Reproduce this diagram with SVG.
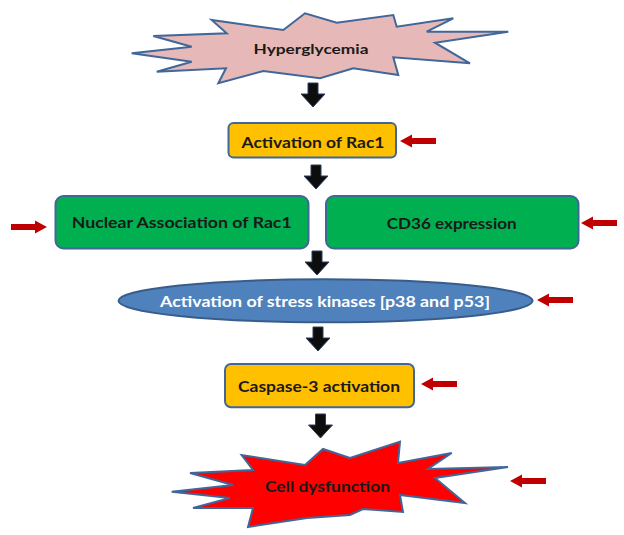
<svg xmlns="http://www.w3.org/2000/svg" width="624" height="535" viewBox="0 0 624 535">
<style>
.lbl{font-family:Lato,"Liberation Sans",sans-serif;font-weight:bold;fill:#1a1a1a;text-anchor:middle}
.node{stroke:#41679A;stroke-width:2}
.down{fill:#0d0d0d;stroke:#2A3E5E;stroke-width:1}
.red{fill:#C00000}
</style>
<defs>
<path id="dn" d="M-5,0 H5 V11 H12 L0,24 L-12,11 H-5 Z"/>
<path id="rl" d="M0,0 L12,-6.5 V-3 H36 V3 H12 V6.5 Z"/>
</defs>
<rect width="624" height="535" fill="#ffffff"/>

<g id="hyperglycemia">
<polygon class="node" fill="#E6B9B8" points="131.7,53.3 191.7,46.7 153.3,36 226.7,33.3 211.7,20 283.3,30 305,13.3 336.7,22.7 393.3,15 396.7,26.7 453.3,18.3 426.7,31.7 508.3,31.7 435,42.7 470,63.3 393.3,57.3 398.3,75 353.3,68.3 320,78.3 263.3,71 218.3,83.3 226,68.3 156.7,71.7 191.7,61.7"/>
<text class="lbl" x="311" y="53.5" font-size="14" textLength="115" lengthAdjust="spacingAndGlyphs">Hyperglycemia</text>
</g>

<g id="rac1">
<rect class="node" x="228.5" y="123" width="167.5" height="34.5" rx="5" fill="#FFC000"/>
<text class="lbl" x="313" y="147.5" font-size="16" textLength="143" lengthAdjust="spacingAndGlyphs">Activation of Rac1</text>
</g>

<g id="nuclear">
<rect class="node" x="55.5" y="196" width="253" height="52.5" rx="8" fill="#00B050"/>
<text class="lbl" x="181.7" y="228.3" font-size="16" textLength="220" lengthAdjust="spacingAndGlyphs">Nuclear Association of Rac1</text>
</g>

<g id="cd36">
<rect class="node" x="326" y="196" width="252.5" height="52.5" rx="8" fill="#00B050"/>
<text class="lbl" x="451.7" y="229.3" font-size="16" textLength="130" lengthAdjust="spacingAndGlyphs">CD36 expression</text>
</g>

<g id="kinases">
<ellipse cx="325.5" cy="300.7" rx="207" ry="21.5" fill="#4F81BD" stroke="#385D8A" stroke-width="2"/>
<text class="lbl" x="325" y="306.7" font-size="15" fill="#ffffff" style="fill:#ffffff" textLength="330" lengthAdjust="spacingAndGlyphs">Activation of stress kinases [p38 and p53]</text>
</g>

<g id="caspase">
<rect class="node" x="225" y="364" width="189" height="43.3" rx="6" fill="#FFC000"/>
<text class="lbl" x="319" y="391.5" font-size="15.5" textLength="162" lengthAdjust="spacingAndGlyphs">Caspase-3 activation</text>
</g>

<g id="dysfunction">
<polygon class="node" fill="#FF0000" points="171.7,491.7 233,485 190,473 253,470 241.7,455 305,465 323,449 350,458 400,441.7 398,463 451.7,453 428,469 508,467 435,478 465,503 400,495 403,512 363,509 350,515 307,518 248,527 253,508 193,508 230,498"/>
<text class="lbl" x="327.5" y="491.7" font-size="15.5" textLength="125" lengthAdjust="spacingAndGlyphs">Cell dysfunction</text>
</g>

<g id="connectors">
<use href="#dn" class="down" transform="translate(313,83)"/>
<use href="#dn" class="down" transform="translate(316,165)"/>
<use href="#dn" class="down" transform="translate(317,251)"/>
<use href="#dn" class="down" transform="translate(318,327)"/>
<use href="#dn" class="down" transform="translate(320.5,414)"/>

<use href="#rl" class="red" transform="translate(400,141)"/>
<use href="#rl" class="red" transform="translate(47,227) scale(-1,1)"/>
<use href="#rl" class="red" transform="translate(581,223)"/>
<use href="#rl" class="red" transform="translate(537,300)"/>
<use href="#rl" class="red" transform="translate(421,384)"/>
<use href="#rl" class="red" transform="translate(510,481)"/>
</g>
</svg>
